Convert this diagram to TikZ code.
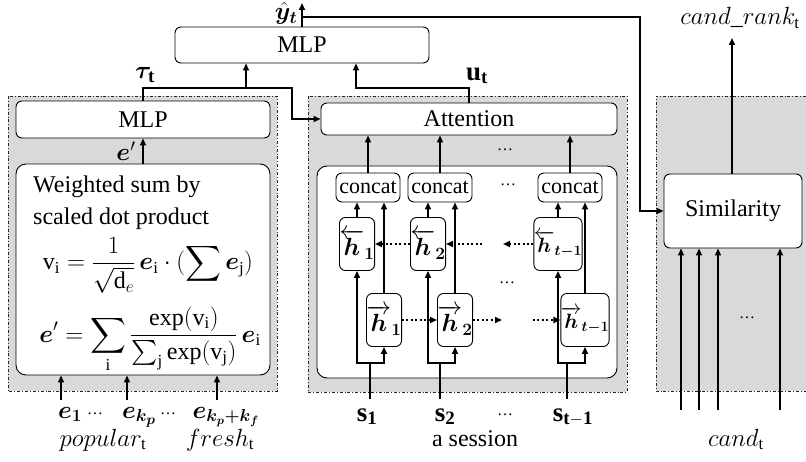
\documentclass[tikz,border=0pt]{standalone}
\usepackage{amsmath}
\usepackage{bm}
\usepackage{fontspec}
\setmainfont{Liberation Serif}
\usetikzlibrary{arrows.meta}

\begin{document}
\begin{tikzpicture}[x=1pt, y=-1pt, >={Triangle[length=7pt,width=6pt]},
  every node/.style={font=\fontsize{24}{29}\selectfont, inner sep=0pt},
  lbl/.style={font=\fontsize{27}{30}\selectfont},
  dots/.style={font=\fontsize{16}{18}\selectfont},
  panel/.style={fill=gray!30, draw=black!85, line width=0.8pt, dash dot},
  box/.style={draw, fill=white, rounded corners=6pt, line width=0.9pt},
  hbox/.style={box, minimum width=33pt, minimum height=53pt, font=\fontsize{26}{28}\selectfont},
  cbox/.style={box, minimum width=64pt, minimum height=29pt, font=\fontsize{22}{26}\selectfont},
  flow/.style={line width=2pt, ->},
  rnn/.style={line width=2pt, ->, dash pattern=on 2pt off 2.4pt}]
\useasboundingbox (0,0) rectangle (806,462);

% gray panels
\draw[panel] (8,96) rectangle (277,391);
\draw[panel] (308,96) rectangle (627,392);
\fill[gray!30] (656,96) rectangle (806,391);
\draw[panel, fill=none] (806,96) -- (656,96) -- (656,391) -- (806,391);

% top
\node[box, minimum width=254pt, minimum height=36pt] (mlpTop) at (302,45) {MLP};
\coordinate (yhatTip) at (302,3);
\coordinate (simBend) at (640,17);
\node[lbl] (yhat) at (286,13) {$\bm{\hat{y}_t}$};

% left panel: popular and fresh news
\node[box, minimum width=254pt, minimum height=37pt] (mlpL) at (143,119.5) {MLP};
\node[box, rounded corners=10pt, minimum width=254pt, minimum height=211pt] (wsum) at (143,269.5) {};
\node[anchor=base west] (wline1) at (33,193) {Weighted sum by};
\node[anchor=base west] (wline2) at (33,225) {scaled dot product};
\node[anchor=base] (fvi) at (148,270) {$\displaystyle \mathrm{v_i}=\frac{1}{\sqrt{\mathrm{d}_e}}\,\bm{e}_\mathrm{i}\cdot(\sum\bm{e}_\mathrm{j})$};
\node[anchor=base] (fep) at (150,342) {$\displaystyle \bm{e}'=\sum_\mathrm{i}\frac{\exp(\mathrm{v_i})}{\sum_\mathrm{j}\exp(\mathrm{v_j})}\,\bm{e}_\mathrm{i}$};
\node[lbl] (eprime) at (126,151) {$\bm{e}'$};
\node[lbl] (tau) at (145,75) {$\bm{\tau}_\mathbf{t}$};
\coordinate (in1) at (61,400);
\coordinate (in2) at (127,400);
\coordinate (in3) at (217,400);
\node[lbl, anchor=base] (e1) at (70,418) {$\bm{e_1}$};
\node[dots] (eDots1) at (95,414) {\dots};
\node[lbl, anchor=base] (ekp) at (139,418) {$\bm{e_{k_p}}$};
\node[dots] (eDots2) at (168,414) {\dots};
\node[anchor=base, font=\fontsize{25}{28}\selectfont] (ekf) at (226,418) {$\bm{e_{k_p+k_f}}$};
\node[anchor=base] (popular) at (103,446) {$popular_\mathrm{t}$};
\node[anchor=base] (fresh) at (220,446) {$fresh_\mathrm{t}$};

% middle panel: the session
\node[box, minimum width=296pt, minimum height=32pt] (att) at (469,119) {Attention};
\node[lbl] (ut) at (477,76) {$\mathbf{u_t}$};
\node[dots] (attDots) at (505,150) {\dots};
\node[box, rounded corners=10pt, minimum width=300pt, minimum height=212pt] (seq) at (467,272) {};
\node[cbox] (c1) at (368,187.5) {concat};
\node[cbox] (c2) at (440,187.5) {concat};
\node[cbox] (c3) at (570,187.5) {concat};
\node[dots] (cDots) at (508,185) {\dots};
\node[hbox] (hb1) at (357,244) {$\overleftarrow{\bm{h}}_{\bm{1}}$};
\node[hbox] (hb2) at (428,244) {$\overleftarrow{\bm{h}}_{\bm{2}}$};
\node[hbox, minimum width=38pt, font=\fontsize{22}{26}\selectfont] (hb3) at (558,244) {$\overleftarrow{\bm{h}}_{\bm{t-1}}$};
\node[dots] (midDots) at (507,283) {\dots};
\node[hbox] (hf1) at (384,320) {$\overrightarrow{\bm{h}}_{\bm{1}}$};
\node[hbox] (hf2) at (455,320) {$\overrightarrow{\bm{h}}_{\bm{2}}$};
\node[hbox, minimum width=39pt, font=\fontsize{22}{26}\selectfont] (hf3) at (585,320) {$\overrightarrow{\bm{h}}_{\bm{t-1}}$};
\coordinate (sIn1) at (370,399);
\coordinate (sIn2) at (440,399);
\coordinate (sIn3) at (567,399);
\coordinate (sSplit1) at (370,363);
\coordinate (sSplit2) at (440,363);
\coordinate (sSplit3) at (567,363);
\node[lbl, anchor=base] (s1) at (367,421) {$\mathbf{s_1}$};
\node[lbl, anchor=base] (s2) at (445,421) {$\mathbf{s_2}$};
\node[dots] (sDots) at (505,415) {\dots};
\node[lbl, anchor=base] (s3) at (573,421) {$\mathbf{s_{t-1}}$};
\node[anchor=base] (session) at (475,446) {a session};

% right panel: candidates
\node[box, minimum width=138pt, minimum height=74pt] (sim) at (733,211) {Similarity};
\coordinate (rank) at (732,38);
\node[anchor=base] (ranklbl) at (740,25) {$cand\_rank_\mathrm{t}$};
\coordinate (cand1) at (681,410);
\coordinate (cand2) at (699,410);
\coordinate (cand3) at (718,410);
\coordinate (cand4) at (780,410);
\node[dots] (candDots) at (747,318) {\dots};
\node[anchor=base] (candlbl) at (736,446) {$cand_\mathrm{t}$};

% connectors
\coordinate (tauBend) at (292,88);
\coordinate (tauFork) at (246,88);
\coordinate (uBend) at (356,88);
\draw[flow] (mlpTop.north) -- (yhatTip);
\draw[flow] (yhatTip |- simBend) -- (simBend) |- (sim.west);
\draw[flow] (mlpL.north) |- (tauBend) |- (att.west);
\draw[flow] (tauFork) -- (tauFork |- mlpTop.south);
\draw[flow] (att.north) |- (uBend) -- (uBend |- mlpTop.south);
\draw[flow] (wsum.north) -- (mlpL.south);
\draw[flow] (in1) -- (in1 |- wsum.south);
\draw[flow] (in2) -- (in2 |- wsum.south);
\draw[flow] (in3) -- (in3 |- wsum.south);

\foreach \i in {1,2,3} {
  \draw[flow] (sIn\i) -- (sSplit\i) -| (hb\i.south);
  \draw[flow] (sSplit\i) -| (hf\i.south);
  \draw[flow] (hb\i.north) -- (hb\i.north |- c\i.south);
  \draw[flow] (hf\i.north) -- (hf\i.north |- c\i.south);
  \draw[flow] (c\i.north) -- (c\i.north |- att.south);
}

\coordinate (bwA) at (482,244);
\coordinate (bwB) at (503,244);
\coordinate (fwA) at (502,320);
\coordinate (fwB) at (533,320);
\draw[rnn] (hb2.west) -- (hb1.east);
\draw[rnn] (bwA) -- (hb2.east);
\draw[rnn] (hb3.west) -- (bwB);
\draw[rnn] (hf1.east) -- (hf2.west);
\draw[rnn] (hf2.east) -- (fwA);
\draw[rnn] (fwB) -- (hf3.west);

\draw[flow] (sim.north -| rank) -- (rank);
\draw[flow] (cand1) -- (cand1 |- sim.south);
\draw[flow] (cand2) -- (cand2 |- sim.south);
\draw[flow] (cand3) -- (cand3 |- sim.south);
\draw[flow] (cand4) -- (cand4 |- sim.south);
\end{tikzpicture}
\end{document}
